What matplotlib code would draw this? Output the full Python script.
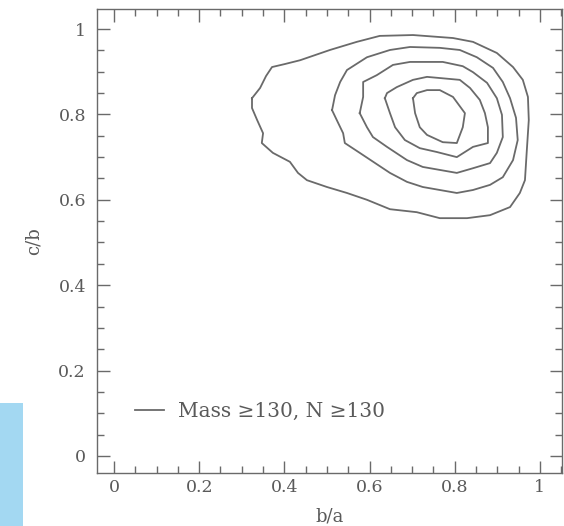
import matplotlib
matplotlib.use("Agg")
import matplotlib.pyplot as plt
from matplotlib.patches import Rectangle
from matplotlib.ticker import MultipleLocator

# Iso-density contours of the axis ratios (b/a, c/b), from outermost to innermost
contour1_ba = [0.324, 0.343, 0.357, 0.371, 0.401, 0.437, 0.507, 0.570, 0.624, 0.702,
               0.796, 0.843, 0.899, 0.937, 0.960, 0.972, 0.974, 0.969, 0.965, 0.953,
               0.930, 0.883, 0.829, 0.765, 0.711, 0.648, 0.594, 0.547, 0.500, 0.453,
               0.432, 0.413, 0.373, 0.347, 0.350, 0.336, 0.324]
contour1_cb = [0.838, 0.862, 0.890, 0.911, 0.918, 0.927, 0.951, 0.970, 0.984, 0.986,
               0.979, 0.970, 0.944, 0.911, 0.881, 0.841, 0.787, 0.710, 0.646, 0.616,
               0.583, 0.564, 0.557, 0.557, 0.571, 0.578, 0.600, 0.616, 0.630, 0.646,
               0.663, 0.689, 0.710, 0.733, 0.756, 0.787, 0.815]

contour2_ba = [0.512, 0.519, 0.531, 0.547, 0.594, 0.648, 0.695, 0.765, 0.812, 0.852,
               0.890, 0.913, 0.930, 0.944, 0.948, 0.937, 0.913, 0.883, 0.843, 0.805,
               0.765, 0.725, 0.688, 0.648, 0.577, 0.542, 0.538, 0.523]
contour2_cb = [0.810, 0.845, 0.876, 0.904, 0.934, 0.951, 0.958, 0.956, 0.951, 0.934,
               0.909, 0.876, 0.838, 0.792, 0.740, 0.693, 0.653, 0.635, 0.623, 0.616,
               0.623, 0.630, 0.642, 0.663, 0.710, 0.733, 0.756, 0.787]

contour3_ba = [0.577, 0.585, 0.585, 0.617, 0.655, 0.695, 0.772, 0.819, 0.843, 0.876,
               0.899, 0.911, 0.913, 0.899, 0.883, 0.843, 0.805, 0.765, 0.725, 0.688,
               0.641, 0.608, 0.594]
contour3_cb = [0.803, 0.841, 0.876, 0.892, 0.916, 0.923, 0.923, 0.913, 0.899, 0.874,
               0.838, 0.799, 0.747, 0.710, 0.686, 0.674, 0.663, 0.670, 0.677, 0.693,
               0.724, 0.747, 0.770]

contour4_ba = [0.636, 0.641, 0.664, 0.702, 0.735, 0.812, 0.836, 0.859, 0.871, 0.878,
               0.878, 0.843, 0.805, 0.758, 0.718, 0.683, 0.660, 0.648]
contour4_cb = [0.838, 0.850, 0.864, 0.881, 0.888, 0.881, 0.862, 0.834, 0.803, 0.770,
               0.733, 0.724, 0.700, 0.712, 0.721, 0.740, 0.770, 0.803]

contour5_ba = [0.702, 0.711, 0.735, 0.765, 0.796, 0.824, 0.819, 0.805, 0.772, 0.735,
               0.718, 0.707]
contour5_cb = [0.838, 0.850, 0.857, 0.857, 0.841, 0.803, 0.770, 0.733, 0.735, 0.752,
               0.770, 0.803]

contours = [(contour1_ba, contour1_cb), (contour2_ba, contour2_cb),
            (contour3_ba, contour3_cb), (contour4_ba, contour4_cb),
            (contour5_ba, contour5_cb)]

series_label = "Mass \u2265130, N \u2265130"
tick_values = [0, 0.2, 0.4, 0.6, 0.8, 1]
tick_labels = ["0", "0.2", "0.4", "0.6", "0.8", "1"]

plt.rcParams["font.family"] = ["DejaVu Serif", "DejaVu Sans"]
ink = "#6a6a6a"
text_ink = "#5a5a5a"

fig = plt.figure(figsize=(5.64, 5.26), dpi=100)
fig.patch.set_facecolor("white")
ax = fig.add_axes([97 / 564, 1 - 473 / 526, 465 / 564, 464 / 526])

line = None
for xs, ys in contours:
    xs_closed = list(xs) + [xs[0]]
    ys_closed = list(ys) + [ys[0]]
    (l,) = ax.plot(xs_closed, ys_closed, color=ink, lw=1.3, solid_joinstyle="round")
    if line is None:
        line = l

ax.set_xlim(-0.04, 1.052)
ax.set_ylim(-0.04, 1.047)

ax.set_xticks(tick_values)
ax.set_xticklabels(tick_labels)
ax.set_yticks(tick_values)
ax.set_yticklabels(tick_labels)
ax.xaxis.set_minor_locator(MultipleLocator(0.05))
ax.yaxis.set_minor_locator(MultipleLocator(0.05))
ax.tick_params(which="both", direction="in", top=True, right=True,
               color=ink, width=1.0, labelcolor=text_ink, labelsize=12.5)
ax.tick_params(which="major", length=9)
ax.tick_params(which="minor", length=5)
ax.tick_params(axis="x", which="major", pad=4)
ax.tick_params(axis="y", which="major", pad=8)
for sp in ax.spines.values():
    sp.set_color(ink)
    sp.set_linewidth(1.0)

ax.set_xlabel("b/a", fontsize=13, color=text_ink)
ax.set_ylabel("c/b", fontsize=13, color=text_ink)
ax.xaxis.set_label_coords(0.5, -0.075)
ax.yaxis.set_label_coords(-0.116, 0.5)

leg = ax.legend([line], [series_label], loc="lower left",
                bbox_to_anchor=(0.082, 0.112), frameon=False,
                fontsize=14.5, handlelength=1.45, handletextpad=0.7,
                borderaxespad=0, borderpad=0)
for t in leg.get_texts():
    t.set_color(text_ink)

# pale blue strip along the lower left edge
fig.patches.append(Rectangle((0, 0), 23 / 564, 123 / 526, transform=fig.transFigure,
                             facecolor="#a3d8f2", edgecolor="none", zorder=0))

fig.savefig("out.png", dpi=100)
